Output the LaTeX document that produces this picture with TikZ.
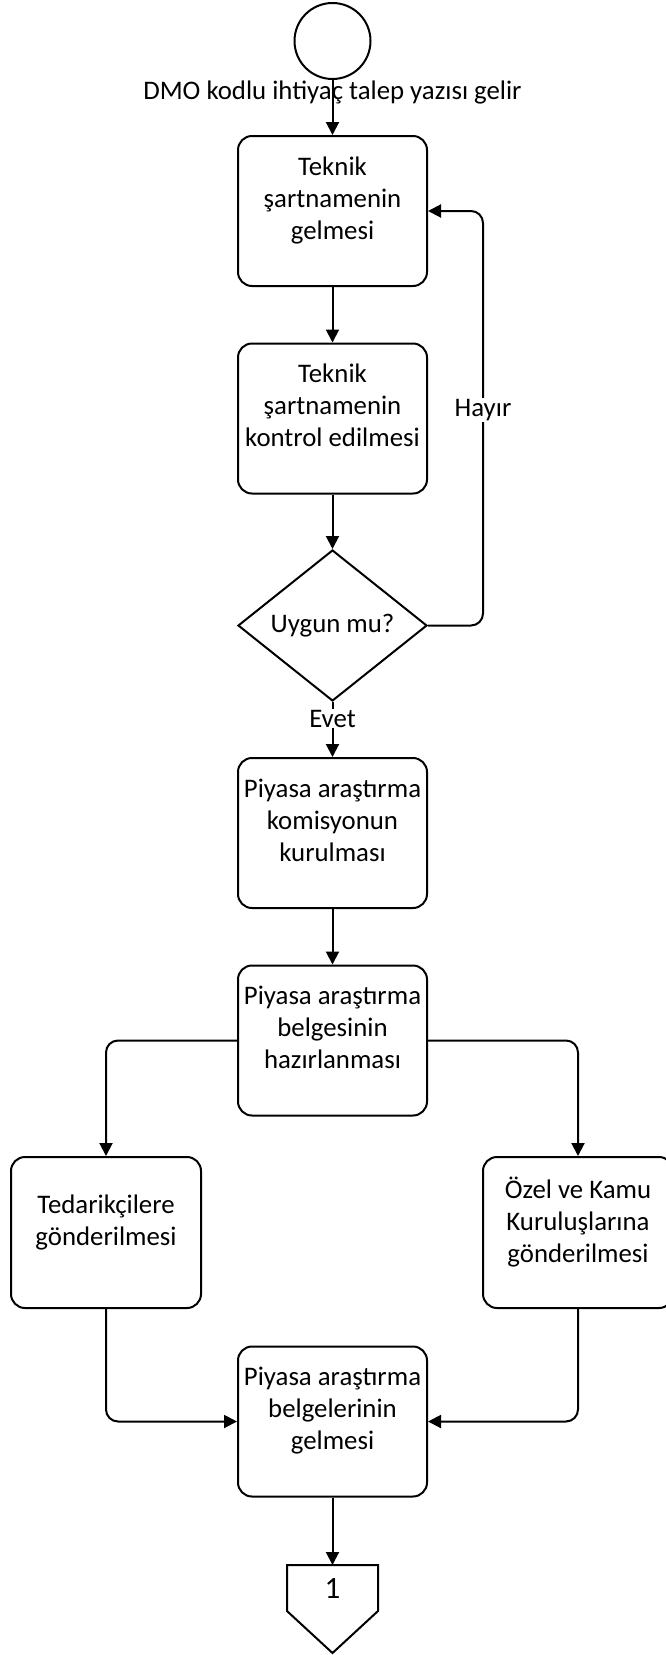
\documentclass[tikz,border=0pt]{standalone}
\usepackage{fontspec}
\setmainfont{Carlito}
\usetikzlibrary{arrows.meta, shapes.geometric, positioning, calc}

\begin{document}
\begin{tikzpicture}[x=1pt, y=-1pt, line width=2pt,
    kutu/.style={draw, rounded corners=14pt, minimum width=189pt, minimum height=150pt, align=center, inner sep=0pt},
    yankutu/.style={kutu, minimum width=190pt, minimum height=151pt},
    karar/.style={draw, diamond, minimum width=189pt, minimum height=151pt, inner sep=0pt},
    ok/.style={-{Triangle[length=13pt, width=13pt]}},
    etiket/.style={fill=white, inner sep=1pt}]
        \fontsize{26.8}{32}\selectfont
        \useasboundingbox (0,0) rectangle (666,1655);
        % Start
        \node[draw, circle, minimum size=76pt, inner sep=0pt] (baslangic) at (332.5,41) {};
        \node (talep) at (332.5,92) {DMO kodlu ihtiyaç talep yazısı gelir};
        % Main column
        \node[kutu] (sartname) at (332.5,211) {Teknik\\şartnamenin\\gelmesi\\[-6pt]};
        \node[kutu] (kontrol) at (332.5,418.5) {Teknik\\şartnamenin\\kontrol edilmesi\\[-6pt]};
        \node[karar] (uygun) at (332.5,625.5) {Uygun mu?};
        \node[kutu] (komisyon) at (332.5,833) {Piyasa araştırma\\komisyonun\\kurulması\\[-6pt]};
        \node[kutu] (belge) at (332.5,1040.5) {Piyasa araştırma\\belgesinin\\hazırlanması\\[-6pt]};
        % Branches
        \node[yankutu] (tedarik) at (106,1232.5) {Tedarikçilere\\gönderilmesi\\[-8pt]};
        \node[yankutu] (kurulus) at (578,1232.5) {Özel ve Kamu\\Kuruluşlarına\\gönderilmesi\\[-6pt]};
        \node[kutu] (gelme) at (332.5,1421.5) {Piyasa araştırma\\belgelerinin\\gelmesi\\[-6pt]};
        % Off-page connector
        \coordinate (konnektor) at (332.5,1565);
        \draw (287,1565) -- (378,1565) -- (378,1611) -- (332.5,1653) -- (287,1611) -- cycle;
        \node[font=\fontsize{31}{36}\selectfont] (sayfa) at (332.5,1589) {1};
        % Connectors
        \draw[ok] (baslangic) -- (sartname);
        \draw[ok] (sartname) -- (kontrol);
        \draw[ok] (kontrol) -- (uygun);
        \coordinate (donus) at (483,625.5);
        \draw[ok, rounded corners=12pt] (uygun.east) -- (donus) |- (sartname.east);
        \node[etiket] (hayir) at (483,410) {Hayır};
        \draw[ok] (uygun) -- node[etiket, pos=0.3] (evet) {Evet} (komisyon);
        \draw[ok] (komisyon) -- (belge);
        \draw[ok, rounded corners=12pt] (belge.west) -| (tedarik);
        \draw[ok, rounded corners=12pt] (belge.east) -| (kurulus);
        \draw[ok, rounded corners=12pt] (tedarik) |- (gelme.west);
        \draw[ok, rounded corners=12pt] (kurulus) |- (gelme.east);
        \draw[ok] (gelme) -- (konnektor);
      \end{tikzpicture}
\end{document}
